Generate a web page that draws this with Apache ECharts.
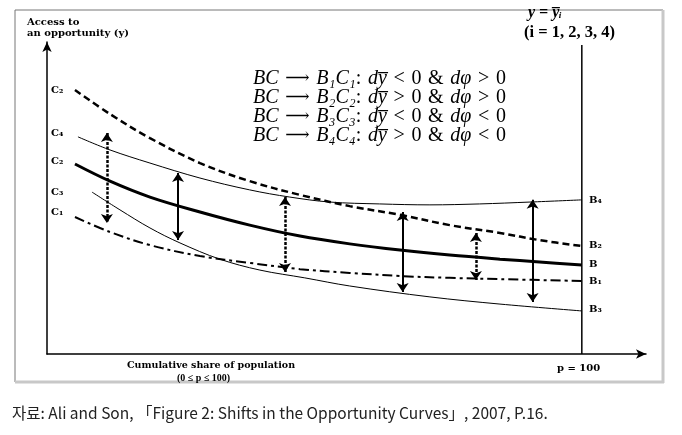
<!DOCTYPE html>
<html><head><meta charset="utf-8">
<script src="https://cdn.jsdelivr.net/npm/echarts@6/dist/echarts.min.js"></script>
<style>html,body{margin:0;padding:0;background:#fff}#c{width:682px;height:435px}</style>
</head><body><div id="c"></div>
<script>
// x: cumulative share of population (p), y: access to an opportunity
const c2X = [5.23, 11.78, 19.25, 28.6, 37.9, 47.3, 56.6, 66.0, 75.3, 84.7, 92.1, 100];
const c2Y = [84.6, 76.9, 69.2, 61.2, 55.4, 51.0, 47.4, 44.6, 41.3, 38.8, 36.5, 34.6];
const c4X = [5.79, 11.78, 19.25, 28.6, 37.9, 45.4, 52.9, 62.2, 71.6, 80.9, 90.3, 100];
const c4Y = [69.6, 65.4, 61.2, 56.4, 52.6, 50.3, 48.7, 48.1, 47.8, 48.1, 48.7, 49.4];
const cX  = [5.23, 11.78, 19.25, 28.6, 37.9, 47.3, 56.6, 66.0, 75.3, 84.7, 92.1, 100];
const cY  = [60.9, 55.4, 50.3, 45.5, 41.3, 37.8, 35.3, 33.3, 31.7, 30.4, 29.5, 28.5];
const c3X = [8.41, 13.64, 19.25, 24.86, 32.3, 39.8, 48.2, 56.6, 71.6, 84.7, 100];
const c3Y = [51.9, 46.2, 40.4, 35.6, 30.4, 26.9, 24.4, 21.8, 18.3, 16.0, 13.8];
const c1X = [5.23, 11.78, 19.25, 28.6, 37.9, 47.3, 56.6, 66.0, 75.3, 84.7, 100];
const c1Y = [43.9, 39.1, 34.9, 31.4, 29.2, 27.2, 26.0, 25.0, 24.4, 24.0, 23.4];
// double-headed shift arrows: x, top, bottom, dashed?
const arrowX   = [11.2, 24.5, 44.5, 66.5, 80.2, 90.8];
const arrowTop = [70.8, 58.0, 50.3, 45.5, 38.8, 49.4];
const arrowBot = [42.0, 36.5, 26.3, 19.9, 23.7, 16.7];
const arrowDashed = [true, false, true, false, true, false];
const pMax = 100;
const leftLabels  = ['C\u2082', 'C\u2084', 'C\u2082', 'C\u2083', 'C\u2081'];
const rightLabels = ['B\u2084', 'B\u2082', 'B', 'B\u2081', 'B\u2083'];
const equations = [
  ['B\u2081C\u2081', '<', '>'],
  ['B\u2082C\u2082', '>', '>'],
  ['B\u2083C\u2083', '<', '<'],
  ['B\u2084C\u2084', '>', '<']
];

const zip = (xs, ys) => xs.map((x, i) => [x, ys[i]]);
const chart = echarts.init(document.getElementById('c'));
const serif = '"Liberation Serif","DejaVu Serif",serif';
const wideSerif = '"DejaVu Serif",serif';

const curve = (data, width, type) => ({
  type: 'line', data, smooth: 0.35, symbol: 'none', silent: true,
  lineStyle: { color: '#000', width, type }
});

const arrowSeries = arrowX.map((x, i) => ({
  type: 'lines', coordinateSystem: 'cartesian2d', silent: true,
  symbol: ['arrow', 'arrow'], symbolSize: 9,
  lineStyle: { color: '#000', width: arrowDashed[i] ? 2.5 : 2, type: arrowDashed[i] ? [3, 1.5] : 'solid', opacity: 1 },
  data: [{ coords: [[x, arrowTop[i]], [x, arrowBot[i]]] }]
}));

const eqGraphics = equations.map((e, i) => ({
  type: 'text', left: 253, top: 69 + i * 19,
  style: {
    rich: {
      it: { fontFamily: serif, fontStyle: 'italic', fontSize: 20, fill: '#000' },
      n: { fontFamily: serif, fontSize: 20, fill: '#000' },
      a: { fontFamily: wideSerif, fontSize: 17, fill: '#000' }
    },
    text: '{it|BC}  {a|\u27f6}  {it|' + e[0] + '}{n|:}  {it|dy\u0305}  {n|' + e[1] + '}  {n|0}  {n|&}  {it|d\u03c6}  {n|' + e[2] + '}  {n|0}'
  }
}));

const leftY = [92, 135, 163, 194, 214];
const rightY = [202, 247, 266, 283, 311];
const labelFont = 'bold 10px ' + wideSerif;

const option = {
  animation: false,
  grid: { left: 47, right: 36, top: 42, bottom: 81 },
  xAxis: {
    type: 'value', min: 0, max: 112, splitLine: { show: false },
    axisTick: { show: false }, axisLabel: { show: false },
    axisLine: { onZero: false, lineStyle: { color: '#000', width: 1.5 }, symbol: ['none', 'arrow'], symbolSize: [7, 10] }
  },
  yAxis: {
    type: 'value', min: 0, max: 100, splitLine: { show: false },
    axisTick: { show: false }, axisLabel: { show: false },
    axisLine: { show: true, onZero: false, lineStyle: { color: '#000', width: 1.5 }, symbol: ['none', 'arrow'], symbolSize: [7, 10] }
  },
  series: [
    { type: 'line', data: [[pMax, 0], [pMax, 99]], symbol: 'none', silent: true, lineStyle: { color: '#000', width: 1.5 } },
    curve(zip(c2X, c2Y), 2.5, [7, 4]),
    curve(zip(c4X, c4Y), 1, 'solid'),
    curve(zip(cX, cY), 3, 'solid'),
    curve(zip(c3X, c3Y), 1, 'solid'),
    curve(zip(c1X, c1Y), 2, [10, 4, 3, 4])
  ].concat(arrowSeries),
  graphic: [
    { type: 'line', shape: { x1: 15, y1: 10, x2: 663, y2: 10 }, style: { stroke: '#777', lineWidth: 1 } },
    { type: 'line', shape: { x1: 15, y1: 10, x2: 15, y2: 382 }, style: { stroke: '#777', lineWidth: 1 } },
    { type: 'line', shape: { x1: 663, y1: 10, x2: 663, y2: 383 }, style: { stroke: '#c8c8c8', lineWidth: 3 } },
    { type: 'line', shape: { x1: 15, y1: 382, x2: 664, y2: 382 }, style: { stroke: '#c8c8c8', lineWidth: 3 } },
    { type: 'text', left: 27, top: 17, style: { text: 'Access to\nan opportunity (y)', font: labelFont, lineHeight: 11, fill: '#000' } },
    { type: 'text', left: 528, top: 5, style: { text: 'y = y\u0305\u1d62', font: 'bold italic 16px ' + serif, fill: '#000' } },
    { type: 'text', left: 524, top: 24, style: { text: '(i = 1, 2, 3, 4)', font: 'bold 16.5px ' + serif, fill: '#000' } },
    { type: 'text', left: 127, top: 361, style: { text: 'Cumulative share of population', font: 'bold 9.5px ' + wideSerif, fill: '#000' } },
    { type: 'text', left: 177, top: 373, style: { text: '(0 \u2264 p \u2264 100)', font: 'bold 10px ' + serif, fill: '#000' } },
    { type: 'text', left: 557, top: 363, style: { text: 'p = 100', font: labelFont, fill: '#000' } },
    { type: 'text', left: 12, top: 405, style: { text: '자료: Ali and Son, \u300cFigure 2: Shifts in the Opportunity Curves\u300d, 2007, P.16.', font: '15.5px "Noto Sans CJK KR", sans-serif', fill: '#222' } }
  ].concat(eqGraphics)
   .concat(leftLabels.map((t, i) => ({ type: 'text', left: 51, top: leftY[i] - 7, style: { text: t, font: labelFont, fill: '#000' } })))
   .concat(rightLabels.map((t, i) => ({ type: 'text', left: 589, top: rightY[i] - 7, style: { text: t, font: labelFont, fill: '#000' } })))
};
chart.setOption(option);
</script>
</body></html>
